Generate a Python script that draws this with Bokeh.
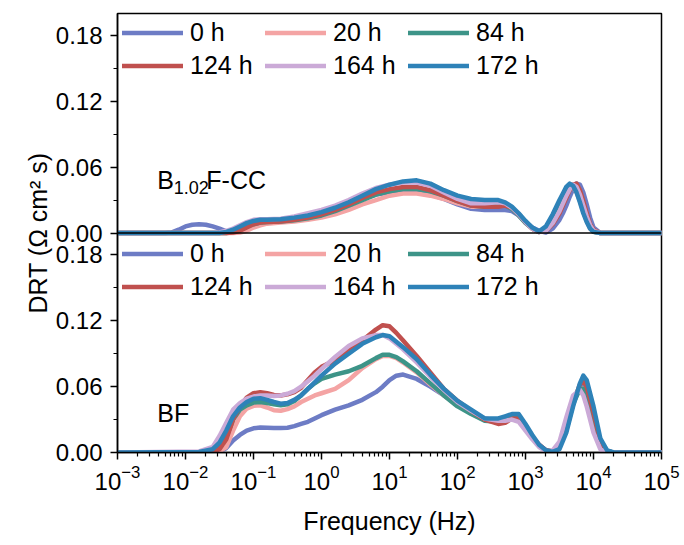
import numpy as np
from bokeh.plotting import figure
from bokeh.models import Range1d, FixedTicker, Legend, LegendItem, Label, Span
from bokeh.embed import file_html
from bokeh.resources import INLINE

# ---------------- data ----------------
series_names = ["0 h", "20 h", "84 h", "124 h", "164 h", "172 h"]
colors = ["#6d7cc5", "#f4a4a4", "#3d9488", "#c0504e", "#cbaad7", "#2e82b8"]

# log10 of frequency (Hz), top panel (B1.02F-CC)
log_f_top = [-3.0, -2.3, -2.2, -2.1, -2.0, -1.9, -1.8, -1.7, -1.6, -1.5, -1.4, -1.3, -1.2, -1.1, -1.0, -0.9, -0.8,
             -0.6, -0.4, -0.2, 0.0, 0.2, 0.4, 0.6, 0.8, 1.0, 1.2, 1.4, 1.6, 1.8, 2.0, 2.2, 2.4, 2.6, 2.7, 2.8, 2.9,
             3.0, 3.1, 3.2, 3.3, 3.4, 3.5, 3.55, 3.6, 3.65, 3.7, 3.75, 3.8, 3.85, 3.9, 3.95, 4.0, 4.1, 5.0]

top_0h = [0, 0, 0.0005, 0.003, 0.006, 0.0075, 0.008, 0.0075, 0.006, 0.004, 0.0015, 0.001, 0.003, 0.006, 0.009, 0.0105, 0.011,
          0.011, 0.012, 0.014, 0.017, 0.021, 0.026, 0.031, 0.035, 0.037, 0.038, 0.0375, 0.035, 0.031, 0.026, 0.022, 0.021, 0.021, 0.021, 0.020, 0.016,
          0.010, 0.005, 0.002, 0.0005, 0.004, 0.012, 0.018, 0.025, 0.033, 0.040, 0.045, 0.044, 0.037, 0.026, 0.014, 0.005, 0.0, 0.0]
top_20h = [0, 0, 0, 0, 0, 0, 0, 0, 0, 0, 0, 0, 0.0005, 0.002, 0.005, 0.007, 0.0085,
           0.0095, 0.0105, 0.012, 0.014, 0.017, 0.021, 0.026, 0.030, 0.034, 0.036, 0.036, 0.034, 0.031, 0.027, 0.024, 0.024, 0.026, 0.026, 0.023, 0.017,
           0.010, 0.004, 0.001, 0.004, 0.014, 0.026, 0.033, 0.039, 0.043, 0.042, 0.037, 0.029, 0.019, 0.011, 0.004, 0.001, 0, 0]
top_84h = [0, 0, 0, 0, 0, 0, 0, 0, 0, 0, 0, 0.001, 0.003, 0.006, 0.008, 0.0095, 0.010,
           0.0105, 0.0115, 0.0135, 0.016, 0.020, 0.025, 0.030, 0.035, 0.038, 0.040, 0.040, 0.038, 0.034, 0.029, 0.025, 0.024, 0.025, 0.025, 0.022, 0.016,
           0.009, 0.004, 0.001, 0.004, 0.012, 0.025, 0.032, 0.038, 0.043, 0.044, 0.039, 0.031, 0.021, 0.012, 0.005, 0.001, 0, 0]
top_124h = [0, 0, 0, 0, 0, 0, 0, 0, 0, 0, 0, 0.0005, 0.002, 0.005, 0.008, 0.0095, 0.010,
            0.0105, 0.012, 0.014, 0.017, 0.021, 0.026, 0.032, 0.037, 0.040, 0.042, 0.042, 0.039, 0.034, 0.029, 0.025, 0.024, 0.024, 0.025, 0.023, 0.017,
            0.010, 0.004, 0.001, 0.002, 0.008, 0.018, 0.025, 0.032, 0.039, 0.044, 0.045, 0.039, 0.029, 0.018, 0.008, 0.003, 0, 0]
top_164h = [0, 0, 0, 0, 0, 0, 0, 0, 0, 0.0005, 0.002, 0.004, 0.007, 0.010, 0.012, 0.0125, 0.0125,
            0.013, 0.015, 0.018, 0.021, 0.025, 0.030, 0.036, 0.041, 0.044, 0.046, 0.046, 0.043, 0.037, 0.031, 0.027, 0.027, 0.028, 0.027, 0.023, 0.017,
            0.010, 0.004, 0.001, 0.002, 0.009, 0.020, 0.027, 0.034, 0.040, 0.044, 0.042, 0.035, 0.025, 0.015, 0.007, 0.002, 0, 0]
top_172h = [0, 0, 0, 0, 0, 0, 0, 0, 0, 0, 0.001, 0.003, 0.006, 0.009, 0.011, 0.012, 0.012,
            0.0125, 0.014, 0.016, 0.019, 0.023, 0.028, 0.034, 0.040, 0.044, 0.047, 0.048, 0.045, 0.039, 0.034, 0.031, 0.030, 0.030, 0.028, 0.024, 0.018,
            0.011, 0.005, 0.0015, 0.006, 0.017, 0.030, 0.036, 0.042, 0.045, 0.043, 0.037, 0.028, 0.018, 0.010, 0.004, 0.001, 0, 0]

# log10 of frequency (Hz), bottom panel (BF)
log_f_bot = [-3.0, -1.8, -1.6, -1.5, -1.4, -1.3, -1.2, -1.1, -1.0, -0.9, -0.8, -0.7, -0.6, -0.5, -0.4, -0.3, -0.2, -0.1,
             0.0, 0.2, 0.4, 0.6, 0.8, 0.9, 1.0, 1.1, 1.2, 1.4, 1.6, 1.8, 2.0, 2.2, 2.4, 2.6, 2.7, 2.8, 2.9,
             3.0, 3.1, 3.2, 3.3, 3.4, 3.5, 3.6, 3.7, 3.8, 3.85, 3.9, 4.0, 4.1, 4.2, 4.3, 5.0]

bot_0h = [0, 0, 0, 0.001, 0.004, 0.011, 0.016, 0.020, 0.022, 0.0227, 0.0226, 0.0224, 0.0223, 0.0226, 0.024, 0.026, 0.028, 0.031,
          0.034, 0.039, 0.043, 0.048, 0.055, 0.060, 0.066, 0.070, 0.071, 0.067, 0.060, 0.052, 0.044, 0.036, 0.030, 0.029, 0.030, 0.032, 0.032,
          0.024, 0.014, 0.006, 0.002, 0.001, 0.005, 0.022, 0.046, 0.060, 0.060, 0.053, 0.030, 0.007, 0.001, 0, 0]
bot_20h = [0, 0, 0, 0.001, 0.005, 0.020, 0.033, 0.040, 0.0425, 0.043, 0.041, 0.0385, 0.038, 0.0395, 0.042, 0.046, 0.049, 0.052,
           0.054, 0.058, 0.066, 0.077, 0.085, 0.088, 0.088, 0.086, 0.082, 0.073, 0.062, 0.052, 0.043, 0.036, 0.031, 0.029, 0.029, 0.031, 0.031,
           0.024, 0.015, 0.007, 0.002, 0.001, 0.006, 0.024, 0.048, 0.059, 0.058, 0.050, 0.026, 0.006, 0.001, 0, 0]
bot_84h = [0, 0, 0.001, 0.004, 0.014, 0.030, 0.039, 0.043, 0.0455, 0.046, 0.045, 0.044, 0.043, 0.044, 0.047, 0.052, 0.058, 0.063,
           0.067, 0.071, 0.074, 0.079, 0.086, 0.089, 0.089, 0.087, 0.083, 0.074, 0.063, 0.052, 0.042, 0.035, 0.029, 0.028, 0.029, 0.032, 0.032,
           0.024, 0.014, 0.006, 0.002, 0.001, 0.005, 0.020, 0.044, 0.058, 0.058, 0.052, 0.030, 0.007, 0.001, 0, 0]
bot_124h = [0, 0, 0.0005, 0.003, 0.012, 0.030, 0.042, 0.050, 0.054, 0.055, 0.054, 0.0525, 0.052, 0.053, 0.055, 0.059, 0.066, 0.073,
            0.078, 0.084, 0.093, 0.102, 0.112, 0.116, 0.115, 0.109, 0.102, 0.088, 0.073, 0.058, 0.047, 0.038, 0.030, 0.026, 0.027, 0.031, 0.031,
            0.023, 0.014, 0.007, 0.002, 0.001, 0.006, 0.022, 0.045, 0.062, 0.065, 0.060, 0.036, 0.010, 0.001, 0, 0]
bot_164h = [0, 0.001, 0.005, 0.015, 0.027, 0.039, 0.045, 0.049, 0.051, 0.052, 0.052, 0.0515, 0.052, 0.0535, 0.056, 0.060, 0.065, 0.070,
            0.076, 0.087, 0.097, 0.104, 0.107, 0.107, 0.104, 0.099, 0.094, 0.082, 0.069, 0.057, 0.046, 0.038, 0.031, 0.029, 0.029, 0.030, 0.028,
            0.020, 0.012, 0.005, 0.001, 0.002, 0.010, 0.032, 0.052, 0.057, 0.052, 0.042, 0.018, 0.003, 0, 0, 0]
bot_172h = [0, 0.0005, 0.003, 0.009, 0.020, 0.033, 0.041, 0.046, 0.049, 0.0495, 0.048, 0.046, 0.0445, 0.045, 0.048, 0.052, 0.058, 0.064,
            0.070, 0.081, 0.090, 0.099, 0.105, 0.107, 0.106, 0.101, 0.096, 0.085, 0.071, 0.058, 0.047, 0.039, 0.031, 0.031, 0.033, 0.035, 0.035,
            0.026, 0.016, 0.007, 0.002, 0.0005, 0.003, 0.018, 0.042, 0.063, 0.070, 0.066, 0.042, 0.013, 0.002, 0, 0]

top_series = [top_0h, top_20h, top_84h, top_124h, top_164h, top_172h]
bot_series = [bot_0h, bot_20h, bot_84h, bot_124h, bot_164h, bot_172h]

x_decades = [-3, -2, -1, 0, 1, 2, 3, 4, 5]
y_tick_values = [0.00, 0.06, 0.12, 0.18]
y_minor_values = [0.03, 0.09, 0.15]
panel_height = 0.2

FONT = "Liberation Sans"

# ---------------- figure ----------------
p = figure(width=680, height=540, x_axis_type="log",
           x_range=Range1d(10.0 ** x_decades[0], 10.0 ** x_decades[-1]),
           y_range=Range1d(0, 2 * panel_height),
           output_backend="svg", toolbar_location=None)
p.extra_y_ranges = {"top": Range1d(-panel_height, panel_height)}

p.min_border_left = 117
p.min_border_right = 19
p.min_border_top = 13
p.min_border_bottom = 88
p.background_fill_color = "white"
p.border_fill_color = "white"
p.outline_line_color = "black"
p.outline_line_width = 1.5
p.xgrid.visible = False
p.ygrid.visible = False

f_top = [10.0 ** v for v in log_f_top]
f_bot = [10.0 ** v for v in log_f_bot]

top_renderers = []
bot_renderers = []
for name, col, yt, yb in zip(series_names, colors, top_series, bot_series):
    rt = p.line(f_top, yt, y_range_name="top", line_color=col, line_width=4.5,
                line_join="round", line_cap="round")
    rb = p.line(f_bot, yb, line_color=col, line_width=4.5,
                line_join="round", line_cap="round")
    top_renderers.append(rt)
    bot_renderers.append(rb)

# divider between the panels
p.add_layout(Span(location=panel_height, dimension="width", line_color="black", line_width=1.5))

# x axis
xax = p.xaxis[0]
xax.ticker = FixedTicker(ticks=[10.0 ** d for d in x_decades],
                         minor_ticks=[m * 10.0 ** d for d in x_decades[:-1] for m in range(2, 10)])
xax.axis_label = "Frequency (Hz)"
# y axis (both panels share the left axis)
yax = p.yaxis[0]
ticks = y_tick_values + [v + panel_height for v in y_tick_values]
yax.ticker = FixedTicker(ticks=ticks, minor_ticks=y_minor_values + [v + panel_height for v in y_minor_values])
yax.major_label_overrides = {t: "%.2f" % v for t, v in zip(ticks, y_tick_values + y_tick_values)}
yax.axis_label = "DRT (Ω cm² s)"

for ax in (xax, yax):
    ax.axis_line_color = "black"
    ax.axis_line_width = 1.5
    ax.major_tick_line_color = "black"
    ax.major_tick_line_width = 1.5
    ax.minor_tick_line_color = "black"
    ax.minor_tick_line_width = 1.2
    ax.major_tick_in = 0
    ax.major_tick_out = 7
    ax.minor_tick_in = 0
    ax.minor_tick_out = 4
    ax.major_label_text_font = FONT
    ax.major_label_text_font_size = "24px"
    ax.major_label_text_color = "black"
    ax.axis_label_text_font = FONT
    ax.axis_label_text_font_size = "25px"
    ax.axis_label_text_font_style = "normal"
    ax.axis_label_text_color = "black"
xax.major_label_standoff = 5
xax.axis_label_standoff = 14
yax.major_label_standoff = 8
yax.axis_label_standoff = 1

# legends
def make_legend(renderers, loc):
    lg = Legend(items=[LegendItem(label=n, renderers=[r]) for n, r in zip(series_names, renderers)],
                location=loc, orientation="horizontal", ncols=3)
    lg.label_text_font = FONT
    lg.label_text_font_size = "25px"
    lg.label_text_color = "black"
    lg.label_standoff = 7
    lg.label_width = 71
    lg.label_height = 29
    lg.glyph_width = 61
    lg.glyph_height = 29
    lg.spacing = 4
    lg.padding = 0
    lg.margin = 0
    lg.background_fill_alpha = 0
    lg.border_line_alpha = 0
    return lg

p.add_layout(make_legend(top_renderers, (5, 372)))
p.add_layout(make_legend(bot_renderers, (5, 151)))

# panel labels
label_x = 10.0 ** -2.415
lbl = dict(text_font=FONT, text_color="black", text_baseline="alphabetic")
p.add_layout(Label(x=label_x, y=0.048, y_range_name="top", text="B", text_font_size="25px", **lbl))
p.add_layout(Label(x=label_x, y=0.048, y_range_name="top", text="1.02", text_font_size="18px",
                   x_offset=16.5, y_offset=-7, **lbl))
p.add_layout(Label(x=label_x, y=0.048, y_range_name="top", text="F-CC", text_font_size="25px",
                   x_offset=49, **lbl))
p.add_layout(Label(x=label_x, y=0.036, text="BF", text_font_size="25px", **lbl))

open("out.html", "w").write(file_html(p, INLINE))
